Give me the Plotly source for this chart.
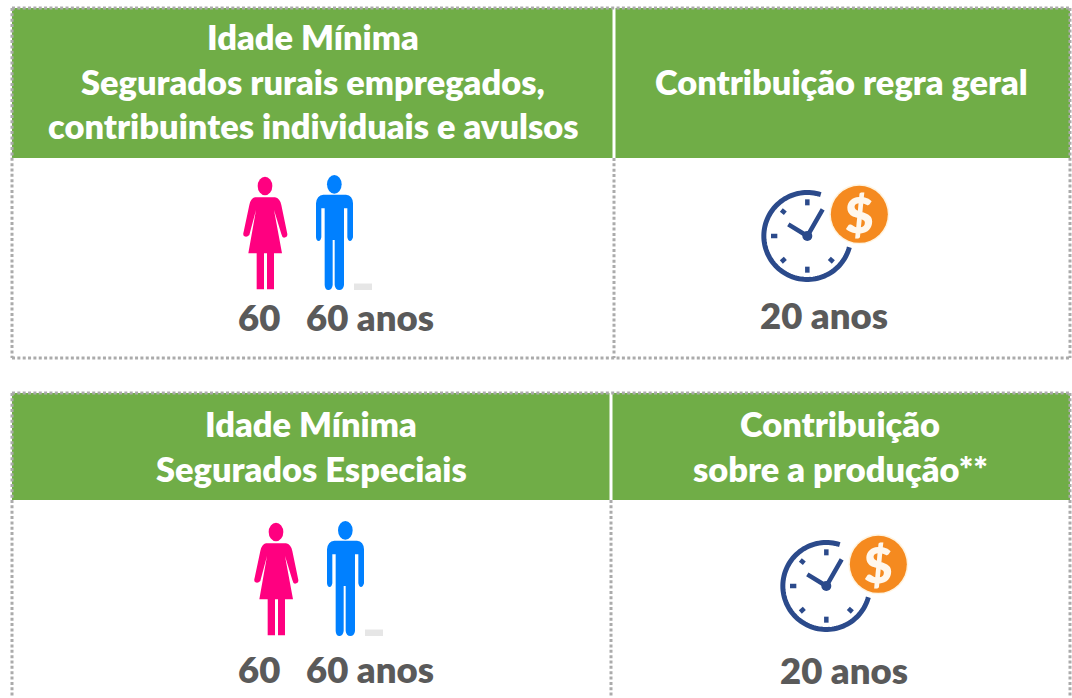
import numpy as np
import plotly.graph_objects as go

# ---- content ----
header_left_top = ["Idade Mínima", "Segurados rurais empregados,", "contribuintes individuais e avulsos"]
header_right_top = ["Contribuição regra geral"]
header_left_bottom = ["Idade Mínima", "Segurados Especiais"]
header_right_bottom = ["Contribuição", "sobre a produção**"]
age_women = [60, 60]
age_men = [60, 60]
contribution_years = [20, 20]
unit = "anos"

GREEN = "#70AD47"
GRID = "#ABABAB"
TEXT = "#5A5A5A"
PINK = "#FF0080"
BLUE = "#0080FF"
NAVY = "#2B4A8B"
ORANGE = "#F58A1F"
FONT = "Lato"

shapes, notes = [], []


def text(x, y, s, size, color, anchor="center"):
    notes.append(dict(x=x, y=y, text=str(s), showarrow=False, xanchor=anchor, yanchor="middle",
                      font=dict(family=FONT, size=size, color=color, weight=800)))


def path(d, fill=None, line=None, width=0):
    shapes.append(dict(type="path", path=d, fillcolor=fill or "rgba(0,0,0,0)",
                       line=dict(color=line or "rgba(0,0,0,0)", width=width), layer="above"))


def ellipse(cx, cy, rx, ry, fill):
    shapes.append(dict(type="circle", x0=cx - rx, x1=cx + rx, y0=cy - ry, y1=cy + ry, fillcolor=fill,
                       line=dict(width=0), layer="above"))


def local_path(spec, ox, oy):
    """spec: list of (command, numbers) in units of 1/3 px."""
    out = []
    for cmd, *nums in spec:
        pts = [f"{ox + nums[i] / 3:.2f},{oy + nums[i + 1] / 3:.2f}" for i in range(0, len(nums), 2)]
        out.append(cmd + " " + " ".join(pts))
    return " ".join(out) + " Z"


WOMAN = [("M", 105, 112), ("L", 165, 112), ("Q", 180, 115, 184, 135), ("L", 202, 222), ("Q", 203, 232, 192, 233),
         ("Q", 186, 232, 184, 222), ("L", 162, 150), ("L", 186, 280), ("L", 162, 280), ("L", 162, 388), ("L", 141, 388),
         ("L", 141, 280), ("L", 132, 280), ("L", 132, 388), ("L", 110, 388), ("L", 110, 280), ("L", 85, 280),
         ("L", 108, 150), ("L", 88, 225), ("Q", 80, 233, 72, 228), ("Q", 68, 224, 71, 215), ("L", 88, 135),
         ("Q", 92, 115, 105, 112)]
MAN = [("M", 310, 104), ("L", 378, 104), ("Q", 398, 106, 399, 130), ("L", 399, 232), ("Q", 396, 243, 390, 243),
       ("Q", 384, 243, 382, 232), ("L", 382, 145), ("L", 372, 145), ("L", 372, 375), ("Q", 370, 390, 358, 390),
       ("Q", 346, 390, 344, 375), ("L", 344, 240), ("L", 338, 240), ("L", 338, 375), ("Q", 336, 390, 325, 390),
       ("Q", 315, 390, 314, 375), ("L", 314, 145), ("L", 304, 145), ("L", 304, 232), ("Q", 302, 243, 296, 243),
       ("Q", 289, 243, 288, 232), ("L", 288, 130), ("Q", 290, 106, 310, 104)]


def people(ox, oy):
    ellipse(ox + 135 / 3, oy + 78 / 3, 22 / 3, 28 / 3, PINK)
    path(local_path(WOMAN, ox, oy), fill=PINK)
    ellipse(ox + 343 / 3, oy + 73 / 3, 22 / 3, 28 / 3, BLUE)
    path(local_path(MAN, ox, oy), fill=BLUE)
    shapes.append(dict(type="rect", x0=ox + 134, x1=ox + 152, y0=oy + 123.5, y1=oy + 130, fillcolor="#E6E6E6",
                       line=dict(width=0), layer="above"))


def clock(ox, oy):
    cx, cy = ox + 202 / 3, oy + 198 / 3
    ang = np.radians(np.linspace(-72, -345, 90))
    pts = [f"{cx + 43.5 * np.cos(a):.2f},{cy + 43.5 * np.sin(a):.2f}" for a in ang]
    path("M " + " L ".join(pts), line=NAVY, width=5)
    segs = [[(145, 163), (202, 198), (248, 118)], [(202, 88), (202, 106)], [(202, 290), (202, 308)],
            [(93, 198), (112, 198)], [(124, 120), (136, 130)], [(124, 276), (136, 265)], [(268, 265), (280, 276)]]
    for seg in segs:
        path("M " + " L ".join(f"{ox + a / 3:.2f},{oy + b / 3:.2f}" for a, b in seg), line=NAVY, width=4.5)
    ellipse(cx, cy, 5, 5, NAVY)
    ellipse(ox + 358 / 3, oy + 133 / 3, 30, 30, "#FFF4E0")
    ellipse(ox + 358 / 3, oy + 133 / 3, 28.5, 28.5, ORANGE)
    text(ox + 358 / 3, oy + 131 / 3, "$", 49, "#FFF7EC")


def grid(x0, x1, y0, y1, xm, yh):
    shapes.append(dict(type="rect", x0=x0, x1=x1, y0=y0, y1=yh, fillcolor=GREEN, line=dict(width=0), layer="below"))
    shapes.append(dict(type="line", x0=xm, x1=xm, y0=y0, y1=yh, line=dict(color="white", width=3), layer="below"))
    dash = dict(color=GRID, width=3, dash="3px,2.35px")
    for a in [(x0, y0, x1, y0), (x0, y0, x0, y1), (x1, y0, x1, y1), (x0, y1, x1, y1), (xm, yh, xm, y1)]:
        shapes.append(dict(type="line", x0=a[0], y0=a[1], x1=a[2], y1=a[3], line=dash, layer="below"))


HEAD = 34.4
BODY = 36.5

# top table
grid(12, 1070, 8, 358, 614, 158)
for line, y in zip(header_left_top, [36.5, 81.5, 125.5]):
    text(313, y, line, HEAD, "white")
text(841, 81.5, header_right_top[0], HEAD, "white")
people(220, 160)
clock(740, 170)
text(258.5, 316.5, age_women[0], BODY, TEXT)
text(370, 316.5, f"{age_men[0]} {unit}", BODY, TEXT)
text(823.5, 314.5, f"{contribution_years[0]} {unit}", BODY, TEXT)

# bottom table
grid(12, 1070, 393, 720, 611, 500)
for line, y in zip(header_left_bottom, [423.5, 468.5]):
    text(311, y, line, HEAD, "white")
for line, y in zip(header_right_bottom, [423.5, 468.5]):
    text(840, y, line, HEAD, "white")
people(231, 506)
clock(759, 520)
text(258.5, 668.5, age_women[1], BODY, TEXT)
text(370, 668.5, f"{age_men[1]} {unit}", BODY, TEXT)
text(843.5, 669.5, f"{contribution_years[1]} {unit}", BODY, TEXT)

fig = go.Figure()
fig.update_layout(
    width=1072, height=698, margin=dict(l=0, r=0, t=0, b=0),
    paper_bgcolor="white", plot_bgcolor="white", showlegend=False,
    xaxis=dict(range=[0, 1072], visible=False, fixedrange=True),
    yaxis=dict(range=[698, 0], visible=False, fixedrange=True),
    shapes=shapes, annotations=notes,
)
fig.write_html("out.html", config=dict(displayModeBar=False), default_width="1072px", default_height="698px",
               include_plotlyjs=True,
               post_script="document.body.style.margin='0';document.body.style.overflow='hidden';")
